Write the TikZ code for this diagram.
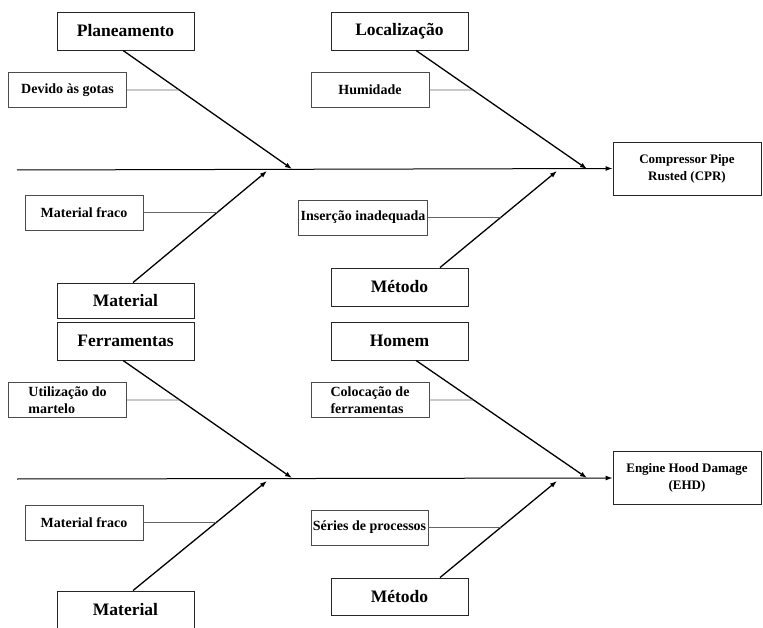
\documentclass[tikz,border=0pt]{standalone}
\usepackage{fontspec}
\setmainfont{Liberation Serif}
\usetikzlibrary{arrows.meta, positioning, calc}

\begin{document}
\begin{tikzpicture}[x=1pt, y=-1pt,
    cat/.style={draw=black!85, line width=0.9pt, minimum width=137pt, minimum height=38pt, inner sep=2pt, font=\fontsize{17.5}{19}\selectfont\bfseries},
    sub/.style={draw=black!70, line width=0.7pt, minimum width=118pt, minimum height=35pt, inner sep=2pt, align=left, font=\fontsize{14}{17}\selectfont\bfseries},
    effect/.style={draw=black!85, line width=0.9pt, minimum width=148pt, minimum height=53pt, align=center, font=\fontsize{13}{17}\selectfont\bfseries},
    spine/.style={line width=1pt, -{Latex[length=7pt, width=5pt]}},
    bone/.style={line width=1.3pt, -{Latex[length=7pt, width=5pt]}},
    twig/.style={line width=0.6pt, draw=black!60}]
  \useasboundingbox (0,0) rectangle (763,628);

  % first diagram: CPR
  \node[cat] (plan) at (125.5,31) {Planeamento};
  \node[cat] (loc) at (399.5,31) {Localização};
  \node[sub] (dev) at (67.5,90) {Devido às gotas};
  \node[sub] (hum) at (370,90) {Humidade};
  \node[effect] (cpr) at (687,168.5) {Compressor Pipe\\Rusted (CPR)};
  \node[sub] (mfr1) at (84,212.5) {Material fraco};
  \node[sub, minimum width=128pt] (ins) at (363,217.5) {Inserção inadequada};
  \node[cat, minimum height=35pt] (mat1) at (125.5,300.5) {Material};
  \node[cat] (met1) at (399.5,287) {Método};

  \coordinate (tail1) at (17,170);
  \coordinate (h1) at (292,169);
  \coordinate (h2) at (267,171);
  \coordinate (h3) at (587,169);
  \coordinate (h4) at (557,171);

  \draw[spine] (tail1) -- (cpr.west);
  \draw[bone] ([xshift=-2.5pt]plan.south) -- (h1);
  \draw[bone] ([xshift=7.5pt]mat1.north) -- (h2);
  \draw[bone] ([xshift=16.5pt]loc.south) -- (h3);
  \draw[bone] ([xshift=40.5pt]met1.north) -- (h4);

  \draw[twig] (dev.east) -- (intersection cs: first line={(dev.east)--(dev.east -| h1)}, second line={([xshift=-2.5pt]plan.south)--(h1)});
  \draw[twig] (hum.east) -- (intersection cs: first line={(hum.east)--(hum.east -| h3)}, second line={([xshift=16.5pt]loc.south)--(h3)});
  \draw[twig] (mfr1.east) -- (intersection cs: first line={(mfr1.east)--(mfr1.east -| h2)}, second line={([xshift=7.5pt]mat1.north)--(h2)});
  \draw[twig] (ins.east) -- (intersection cs: first line={(ins.east)--(ins.east -| h4)}, second line={([xshift=40.5pt]met1.north)--(h4)});

  % second diagram: EHD
  \node[cat] (ferr) at (125.5,341) {Ferramentas};
  \node[cat] (hom) at (399.5,341) {Homem};
  \node[sub] (uti) at (67.5,400) {Utilização do\\martelo};
  \node[sub] (col) at (370,400) {Colocação de\\ferramentas};
  \node[effect] (ehd) at (687,478) {Engine Hood Damage\\(EHD)};
  \node[sub] (mfr2) at (84,522.5) {Material fraco};
  \node[sub, minimum width=117pt] (ser) at (369.5,527.5) {Séries de processos};
  \node[cat] (mat2) at (125.5,610) {Material};
  \node[cat, minimum height=37pt] (met2) at (399.5,596.5) {Método};

  \coordinate (tail2) at (17,479);
  \coordinate (h5) at (292,478);
  \coordinate (h6) at (267,481);
  \coordinate (h7) at (587,478);
  \coordinate (h8) at (557,481);

  \draw[spine] (tail2) -- (ehd.west);
  \draw[bone] ([xshift=-2.5pt]ferr.south) -- (h5);
  \draw[bone] ([xshift=7.5pt]mat2.north) -- (h6);
  \draw[bone] ([xshift=16.5pt]hom.south) -- (h7);
  \draw[bone] ([xshift=40.5pt]met2.north) -- (h8);

  \draw[twig] (uti.east) -- (intersection cs: first line={(uti.east)--(uti.east -| h5)}, second line={([xshift=-2.5pt]ferr.south)--(h5)});
  \draw[twig] (col.east) -- (intersection cs: first line={(col.east)--(col.east -| h7)}, second line={([xshift=16.5pt]hom.south)--(h7)});
  \draw[twig] (mfr2.east) -- (intersection cs: first line={(mfr2.east)--(mfr2.east -| h6)}, second line={([xshift=7.5pt]mat2.north)--(h6)});
  \draw[twig] (ser.east) -- (intersection cs: first line={(ser.east)--(ser.east -| h8)}, second line={([xshift=40.5pt]met2.north)--(h8)});
\end{tikzpicture}
\end{document}
